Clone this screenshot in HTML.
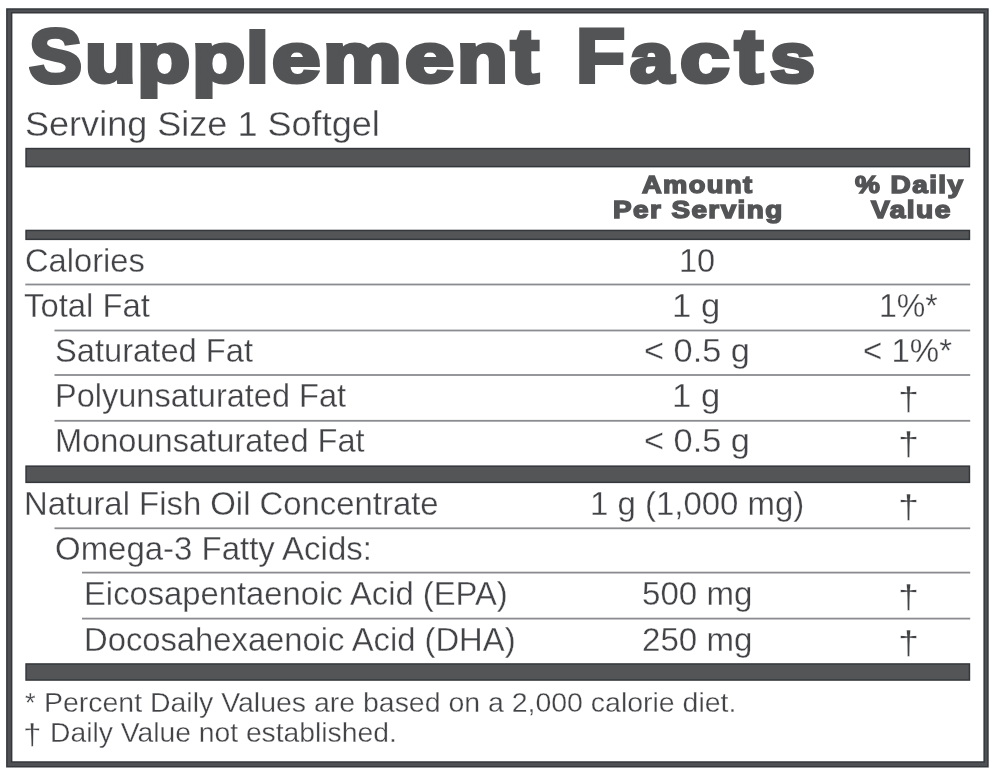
<!DOCTYPE html>
<html><head><meta charset="utf-8"><title>Supplement Facts</title>
<style>
html,body{margin:0;padding:0;background:#fff;}
body{width:1000px;height:775px;position:relative;overflow:hidden;filter:blur(0.4px);font-family:"Liberation Sans",sans-serif;}
.b{position:absolute;}
.t{position:absolute;white-space:nowrap;line-height:1;color:#424347;font-family:"Liberation Sans",sans-serif;transform-origin:0 0;}
.r{-webkit-text-stroke:0.3px #fff;}
.h{font-weight:bold;color:#535456;}
</style></head><body>
<svg class="b" style="left:0;top:0" width="1000" height="775" viewBox="0 0 1000 775"><path fill-rule="evenodd" fill="#34383c" d="M6.1 8.3H988.7V767.6H6.1ZM12.4 13.5H983.4V761.3H12.4Z"/><path fill-rule="evenodd" fill="#4f5053" d="M7.6 9.8H987.2V766.1H7.6ZM10.9 12.0H984.9V762.8H10.9Z"/><rect x="25.3" y="147.8" width="944.9" height="19.6" fill="#34383c"/><rect x="26.8" y="149.3" width="941.9" height="16.6" fill="#545557"/><rect x="25.3" y="229.7" width="944.9" height="10.4" fill="#34383c"/><rect x="26.8" y="231.2" width="941.9" height="7.4" fill="#545557"/><rect x="25.3" y="465.4" width="944.9" height="17.7" fill="#34383c"/><rect x="26.8" y="466.9" width="941.9" height="14.7" fill="#545557"/><rect x="25.3" y="663.2" width="944.9" height="17.6" fill="#34383c"/><rect x="26.8" y="664.7" width="941.9" height="14.6" fill="#545557"/><rect x="25.3" y="283.6" width="944.9" height="1.8" fill="#8b8c8f"/><rect x="54.5" y="329.6" width="915.7" height="1.8" fill="#8b8c8f"/><rect x="54.5" y="374.1" width="915.7" height="1.8" fill="#8b8c8f"/><rect x="54.5" y="419.9" width="915.7" height="1.8" fill="#8b8c8f"/><rect x="54.5" y="527.4" width="915.7" height="1.8" fill="#8b8c8f"/><rect x="82" y="571.7" width="888.2" height="1.8" fill="#8b8c8f"/><rect x="82" y="617.7" width="888.2" height="1.8" fill="#8b8c8f"/></svg>
<div class="t h" id="t0" style="left:29.00px;top:17.74px;font-size:75.2px;transform:scale(1.0573,1.0200);-webkit-text-stroke:4.0px #535456;">S</div>
<div class="t h" id="t1" style="left:85.00px;top:24.00px;font-size:69.6px;transform:scale(1.1939,1.0000);-webkit-text-stroke:4.0px #535456;">u</div>
<div class="t h" id="t2" style="left:137.00px;top:24.00px;font-size:69.6px;transform:scale(1.2503,1.0000);-webkit-text-stroke:4.0px #535456;">p</div>
<div class="t h" id="t3" style="left:192.00px;top:24.00px;font-size:69.6px;transform:scale(1.2521,1.0000);-webkit-text-stroke:4.0px #535456;">p</div>
<div class="t h" id="t4" style="left:246.00px;top:22.96px;font-size:69.6px;transform:scale(1.1791,1.0180);-webkit-text-stroke:4.0px #535456;">l</div>
<div class="t h" id="t5" style="left:272.00px;top:24.00px;font-size:69.6px;transform:scale(1.2495,1.0000);-webkit-text-stroke:4.0px #535456;">e</div>
<div class="t h" id="t6" style="left:323.00px;top:24.00px;font-size:69.6px;transform:scale(1.2701,1.0000);-webkit-text-stroke:4.0px #535456;">m</div>
<div class="t h" id="t7" style="left:405.00px;top:24.00px;font-size:69.6px;transform:scale(1.2637,1.0000);-webkit-text-stroke:4.0px #535456;">e</div>
<div class="t h" id="t8" style="left:457.00px;top:24.00px;font-size:69.6px;transform:scale(1.1933,1.0000);-webkit-text-stroke:4.0px #535456;">n</div>
<div class="t h" id="t9" style="left:511.00px;top:18.21px;font-size:69.6px;transform:scale(1.1966,1.1000);-webkit-text-stroke:4.0px #535456;">t</div>
<div class="t h" id="t10" style="left:576.00px;top:19.01px;font-size:75.2px;transform:scale(1.0676,1.0000);-webkit-text-stroke:4.0px #535456;">F</div>
<div class="t h" id="t11" style="left:630.00px;top:24.00px;font-size:69.6px;transform:scale(1.1269,1.0000);-webkit-text-stroke:4.0px #535456;">a</div>
<div class="t h" id="t12" style="left:680.00px;top:24.00px;font-size:69.6px;transform:scale(1.2786,1.0000);-webkit-text-stroke:4.0px #535456;">c</div>
<div class="t h" id="t13" style="left:735.00px;top:18.21px;font-size:69.6px;transform:scale(1.2083,1.1000);-webkit-text-stroke:4.0px #535456;">t</div>
<div class="t h" id="t14" style="left:770.00px;top:24.00px;font-size:69.6px;transform:scale(1.1612,1.0000);-webkit-text-stroke:4.0px #535456;">s</div>
<div class="t r" id="serv" style="left:25.00px;top:107.00px;font-size:34.2px;transform:scale(1.0547,1.0000);">Serving Size 1 Softgel</div>
<div class="t h" id="h1" style="left:642.00px;top:173.24px;font-size:22.8px;transform:scale(1.1971,1.0400);-webkit-text-stroke:1.4px #535456;letter-spacing:1.17px;">Amount</div>
<div class="t h" id="h2" style="left:613.00px;top:198.24px;font-size:22.8px;transform:scale(1.2228,1.0400);-webkit-text-stroke:1.4px #535456;letter-spacing:1.17px;">Per Serving</div>
<div class="t h" id="h3" style="left:855.00px;top:173.24px;font-size:22.8px;transform:scale(1.2268,1.0400);-webkit-text-stroke:1.4px #535456;letter-spacing:1.17px;">% Daily</div>
<div class="t h" id="h4" style="left:871.00px;top:198.24px;font-size:22.8px;transform:scale(1.2349,1.0400);-webkit-text-stroke:1.4px #535456;letter-spacing:1.17px;">Value</div>
<div class="t r" id="r0" style="left:25.00px;top:245.01px;font-size:32.4px;transform:scale(1.0085,1.0000);">Calories</div>
<div class="t r" id="a0" style="left:679.00px;top:245.01px;font-size:32.4px;transform:scale(1.0048,1.0000);">10</div>
<div class="t r" id="r1" style="left:24.00px;top:290.01px;font-size:32.4px;transform:scale(1.0126,1.0000);">Total Fat</div>
<div class="t r" id="a1" style="left:672.00px;top:290.01px;font-size:32.4px;transform:scale(1.0695,1.0000);">1 g</div>
<div class="t r" id="d1" style="left:879.00px;top:290.01px;font-size:32.4px;transform:scale(0.9898,1.0000);">1%*</div>
<div class="t r" id="r2" style="left:55.00px;top:335.01px;font-size:32.4px;transform:scale(1.0091,1.0000);">Saturated Fat</div>
<div class="t r" id="a2" style="left:644.00px;top:335.01px;font-size:32.4px;transform:scale(1.0602,1.0000);">&lt; 0.5 g</div>
<div class="t r" id="d2" style="left:863.00px;top:335.01px;font-size:32.4px;transform:scale(1.0190,1.0000);">&lt; 1%*</div>
<div class="t r" id="r3" style="left:55.00px;top:380.01px;font-size:32.4px;transform:scale(1.0040,1.0000);">Polyunsaturated Fat</div>
<div class="t r" id="a3" style="left:672.00px;top:380.01px;font-size:32.4px;transform:scale(1.0695,1.0000);">1 g</div>
<div class="t r" id="d3" style="left:898.00px;top:383.01px;font-size:32.4px;transform:scale(1.1681,1.0000);">†</div>
<div class="t r" id="r4" style="left:55.00px;top:425.01px;font-size:32.4px;transform:scale(1.0057,1.0000);">Monounsaturated Fat</div>
<div class="t r" id="a4" style="left:644.00px;top:425.01px;font-size:32.4px;transform:scale(1.0602,1.0000);">&lt; 0.5 g</div>
<div class="t r" id="d4" style="left:898.00px;top:428.01px;font-size:32.4px;transform:scale(1.1681,1.0000);">†</div>
<div class="t r" id="r5" style="left:24.00px;top:488.01px;font-size:32.4px;transform:scale(1.0146,1.0000);">Natural Fish Oil Concentrate</div>
<div class="t r" id="a5" style="left:590.00px;top:488.01px;font-size:32.4px;transform:scale(1.0171,1.0000);">1 g (1,000 mg)</div>
<div class="t r" id="d5" style="left:898.00px;top:491.01px;font-size:32.4px;transform:scale(1.1681,1.0000);">†</div>
<div class="t r" id="r6" style="left:55.00px;top:533.01px;font-size:32.4px;transform:scale(1.0174,1.0000);">Omega-3 Fatty Acids:</div>
<div class="t r" id="r7" style="left:84.00px;top:578.01px;font-size:32.4px;transform:scale(1.0115,1.0000);">Eicosapentaenoic Acid (EPA)</div>
<div class="t r" id="a7" style="left:642.00px;top:578.01px;font-size:32.4px;transform:scale(1.0216,1.0000);">500 mg</div>
<div class="t r" id="d7" style="left:898.00px;top:581.01px;font-size:32.4px;transform:scale(1.1681,1.0000);">†</div>
<div class="t r" id="r8" style="left:84.00px;top:624.01px;font-size:32.4px;transform:scale(1.0114,1.0000);">Docosahexaenoic Acid (DHA)</div>
<div class="t r" id="a8" style="left:642.00px;top:624.01px;font-size:32.4px;transform:scale(1.0219,1.0000);">250 mg</div>
<div class="t r" id="d8" style="left:898.00px;top:627.01px;font-size:32.4px;transform:scale(1.1681,1.0000);">†</div>
<div class="t r" id="f1a" style="left:25.00px;top:689.00px;font-size:27.5px;transform:scale(0.9899,1.0000);">*</div>
<div class="t r" id="f1" style="left:44.00px;top:689.00px;font-size:27.5px;transform:scale(1.0348,1.0000);">Percent Daily Values are based on a 2,000 calorie diet.</div>
<div class="t r" id="f2a" style="left:23.00px;top:720.00px;font-size:30.2px;transform:scale(1.0949,1.0000);">†</div>
<div class="t r" id="f2" style="left:50.00px;top:719.00px;font-size:27.5px;transform:scale(1.0279,1.0000);">Daily Value not established.</div>
</body></html>
